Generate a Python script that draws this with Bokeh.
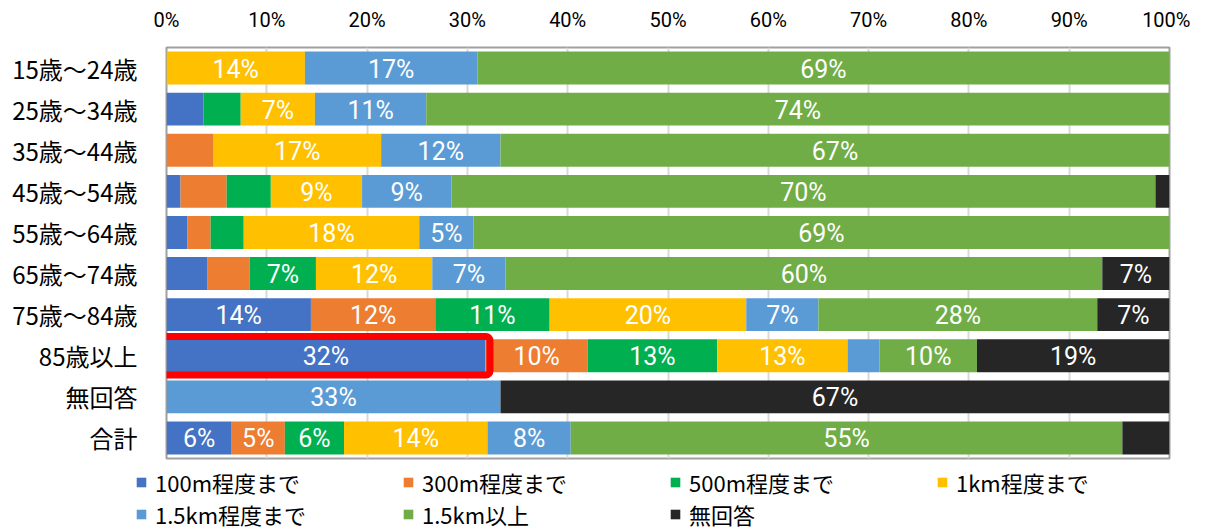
from bokeh.plotting import figure
from bokeh.layouts import column
from bokeh.models import (ColumnDataSource, FactorRange, Range1d, LabelSet, Legend, LegendItem,
                          BoxAnnotation, FixedTicker, PrintfTickFormatter)
from bokeh.core.properties import value
from bokeh.embed import file_html
from bokeh.resources import INLINE

categories = ["15歳～24歳", "25歳～34歳", "35歳～44歳", "45歳～54歳", "55歳～64歳",
              "65歳～74歳", "75歳～84歳", "85歳以上", "無回答", "合計"]
series_names = ["100m程度まで", "300m程度まで", "500m程度まで", "1km程度まで",
                "1.5km程度まで", "1.5km以上", "無回答"]
colors = ["#4472C4", "#ED7D31", "#00B050", "#FFC000", "#5B9BD5", "#70AD47", "#262626"]

m100 = [0.0, 3.7, 0.0, 1.4, 2.1, 4.1, 14.4, 31.8, 0.0, 6.5]
m300 = [0.0, 0.0, 4.7, 4.6, 2.3, 4.2, 12.4, 10.2, 0.0, 5.3]
m500 = [0.0, 3.7, 0.0, 4.4, 3.3, 6.6, 11.4, 12.9, 0.0, 5.9]
km1 = [13.8, 7.4, 16.7, 9.1, 17.5, 11.6, 19.6, 13.0, 0.0, 14.3]
km15 = [17.2, 11.1, 11.9, 8.9, 5.4, 7.3, 7.2, 3.2, 33.3, 8.3]
km15plus = [69.0, 74.1, 66.7, 70.2, 69.4, 59.5, 27.8, 9.7, 0.0, 55.0]
noans = [0.0, 0.0, 0.0, 1.4, 0.0, 6.7, 7.2, 19.2, 66.7, 4.7]

x_ticks = [0, 10, 20, 30, 40, 50, 60, 70, 80, 90, 100]

series = [m100, m300, m500, km1, km15, km15plus, noans]
keys = ["s%d" % i for i in range(len(series))]

data = {"cat": categories}
for k, s in zip(keys, series):
    data[k] = s
source = ColumnDataSource(data)

NUM = "Roboto"
JP = "Noto Sans CJK JP"

factors = list(reversed(categories))
p = figure(width=1190, height=460, y_range=FactorRange(*factors), x_range=Range1d(0, 100),
           x_axis_location="above", output_backend="svg", toolbar_location=None,
           min_border_left=166, min_border_right=21, min_border_top=47, min_border_bottom=2)
p.frame_align = False

renderers = p.hbar_stack(keys, y="cat", height=0.8, color=colors, source=source, line_width=0)

# segment labels
lx, ly, lt = [], [], []
for i, c in enumerate(categories):
    acc = 0.0
    for s in series:
        v = s[i]
        if v >= 5:
            lx.append(acc + v / 2)
            ly.append(c)
            lt.append("%d%%" % round(v))
        acc += v
lab_src = ColumnDataSource(dict(x=lx, y=ly, t=lt))
labels = LabelSet(x="x", y="y", text="t", source=lab_src, text_color="white",
                  text_font=value(NUM), text_font_size="25px", text_align="center",
                  text_baseline="middle", y_offset=-1)
p.add_layout(labels)

# highlight box around 85+ / 100m segment
k = factors.index("85歳以上")
box = BoxAnnotation(left=-0.45, right=m100[categories.index("85歳以上")] + 0.45,
                    bottom=k + 0.5 - 0.47, top=k + 0.5 + 0.47,
                    fill_alpha=0, line_color="#FF0000", line_alpha=1, line_width=7,
                    border_radius=4)
p.add_layout(box)

# axes
p.xaxis.ticker = FixedTicker(ticks=x_ticks)
p.xaxis.formatter = PrintfTickFormatter(format="%d%%")
p.xaxis.axis_line_color = None
p.xaxis.major_tick_line_color = None
p.xaxis.minor_tick_line_color = None
p.xaxis.major_label_standoff = 10
p.xaxis.major_label_text_font = NUM
p.xaxis.major_label_text_font_size = "20px"
p.xaxis.major_label_text_color = "#000000"

p.yaxis.axis_line_color = None
p.yaxis.major_tick_line_color = None
p.yaxis.minor_tick_line_color = None
p.yaxis.major_label_standoff = 23
p.yaxis.major_label_text_font = JP
p.yaxis.major_label_text_font_size = "24px"
p.yaxis.major_label_text_color = "#000000"

p.xgrid.grid_line_color = "#D9D9D9"
p.xgrid.grid_line_width = 2
p.ygrid.grid_line_color = None
p.outline_line_color = "#A0A0A0"
p.outline_line_width = 2
p.background_fill_color = "white"
p.border_fill_color = "white"

# legend strip: same stacked series, drawn outside the strip's visible x-range,
# so only their legend swatches show
p2 = figure(width=1190, height=68, output_backend="svg", toolbar_location=None,
            x_axis_type=None, y_axis_type=None,
            y_range=FactorRange(*factors), x_range=Range1d(-300, -200),
            min_border_left=135, min_border_right=0, min_border_top=6, min_border_bottom=0)
p2.frame_align = False
p2.outline_line_color = None
p2.background_fill_color = "white"
p2.border_fill_color = "white"
leg_renderers = p2.hbar_stack(keys, y="cat", height=0.8, color=colors, source=source,
                              line_width=0)
items = [LegendItem(label=n, renderers=[r]) for n, r in zip(series_names, leg_renderers)]
legend = Legend(items=items, ncols=4, location="top_left", orientation="horizontal",
                glyph_width=12, glyph_height=12, label_standoff=8, label_width=247,
                label_height=26, spacing=0, padding=0, margin=0,
                label_text_font=JP, label_text_font_size="22px", label_text_color="#000000",
                border_line_color=None, background_fill_alpha=0)
p2.add_layout(legend)

layout = column(p, p2, spacing=0)
open("out.html", "w").write(file_html(layout, INLINE))
